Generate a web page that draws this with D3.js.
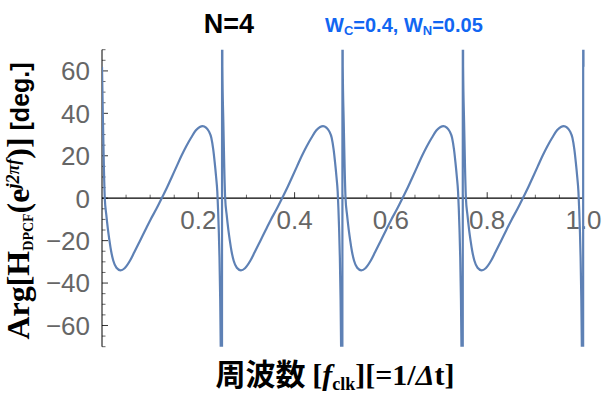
<!DOCTYPE html>
<html><head><meta charset="utf-8">
<script src="https://cdn.jsdelivr.net/npm/d3@7"></script>
<style>body{margin:0;background:#fff}svg{display:block}</style>
</head><body>
<svg id="c" width="603" height="396"></svg>
<script>
// frequency (f / f_clk) and phase (deg)
const freq = [
 0, 0.002, 0.004, 0.0058, 0.009, 0.0125, 0.0155, 0.019, 0.0235, 0.030, 0.0385, 0.047, 0.058, 0.067, 0.078, 0.090, 0.101, 0.113, 0.124, 0.135, 0.145, 0.155, 0.165, 0.175, 0.185, 0.195, 0.203, 0.209, 0.216, 0.222, 0.227, 0.231, 0.234, 0.237, 0.2395, 0.241, 0.2425, 0.244, 0.2455, 0.247, 0.2492, 0.2494,
 0.25, 0.252, 0.254, 0.2558, 0.259, 0.2625, 0.2655, 0.269, 0.2735, 0.280, 0.2885, 0.297, 0.308, 0.317, 0.328, 0.340, 0.351, 0.363, 0.374, 0.385, 0.395, 0.405, 0.415, 0.425, 0.435, 0.445, 0.453, 0.459, 0.466, 0.472, 0.477, 0.481, 0.484, 0.487, 0.4895, 0.491, 0.4925, 0.494, 0.4955, 0.497, 0.4992, 0.4994,
 0.5, 0.502, 0.504, 0.5058, 0.509, 0.5125, 0.5155, 0.519, 0.5235, 0.530, 0.5385, 0.547, 0.558, 0.567, 0.578, 0.590, 0.601, 0.613, 0.624, 0.635, 0.645, 0.655, 0.665, 0.675, 0.685, 0.695, 0.703, 0.709, 0.716, 0.722, 0.727, 0.731, 0.734, 0.737, 0.7395, 0.741, 0.7425, 0.744, 0.7455, 0.747, 0.7492, 0.7494,
 0.75, 0.752, 0.754, 0.7558, 0.759, 0.7625, 0.7655, 0.769, 0.7735, 0.780, 0.7885, 0.797, 0.808, 0.817, 0.828, 0.840, 0.851, 0.863, 0.874, 0.885, 0.895, 0.905, 0.915, 0.925, 0.935, 0.945, 0.953, 0.959, 0.966, 0.972, 0.977, 0.981, 0.984, 0.987, 0.9895, 0.991, 0.9925, 0.994, 0.9955, 0.997, 0.9992, 0.9994, 1.0
];
const phase = [
 62, 36, 14, 0, -8, -15, -20, -25, -29.5, -32.8, -34, -33, -29.5, -25.5, -20.5, -15, -10, -5, 0, 5, 10, 15, 20, 24.5, 28.5, 32, 33.6, 34, 33.3, 31.5, 28.5, 23, 17, 10, 3, -5, -15, -28, -48, -80, -150, 150,
 62, 36, 14, 0, -8, -15, -20, -25, -29.5, -32.8, -34, -33, -29.5, -25.5, -20.5, -15, -10, -5, 0, 5, 10, 15, 20, 24.5, 28.5, 32, 33.6, 34, 33.3, 31.5, 28.5, 23, 17, 10, 3, -5, -15, -28, -48, -80, -150, 150,
 62, 36, 14, 0, -8, -15, -20, -25, -29.5, -32.8, -34, -33, -29.5, -25.5, -20.5, -15, -10, -5, 0, 5, 10, 15, 20, 24.5, 28.5, 32, 33.6, 34, 33.3, 31.5, 28.5, 23, 17, 10, 3, -5, -15, -28, -48, -80, -150, 150,
 62, 36, 14, 0, -8, -15, -20, -25, -29.5, -32.8, -34, -33, -29.5, -25.5, -20.5, -15, -10, -5, 0, 5, 10, 15, 20, 24.5, 28.5, 32, 33.6, 34, 33.3, 31.5, 28.5, 23, 17, 10, 3, -5, -15, -28, -48, -80, -150, 150, 62
];
const xMajor = [0.2, 0.4, 0.6, 0.8, 1.0];
const xMinor = [0.05, 0.1, 0.15, 0.25, 0.3, 0.35, 0.45, 0.5, 0.55, 0.65, 0.7, 0.75, 0.85, 0.9, 0.95];
const yMajor = [-60, -40, -20, 0, 20, 40, 60];
const yMinor = [-70, -65, -55, -50, -45, -35, -30, -25, -15, -10, -5, 5, 10, 15, 25, 30, 35, 45, 50, 55, 65, 70];

const svg = d3.select("#c");
const x = d3.scaleLinear().domain([0, 1]).range([102, 583.5]);
const y = d3.scaleLinear().domain([-70, 70]).range([346.7, 49.7]);
const y0 = y(0);

svg.append("defs").append("clipPath").attr("id", "clip")
  .append("rect").attr("x", x(0)).attr("y", y(70)).attr("width", x(1) - x(0) + 2).attr("height", y(-70) - y(70));

// y axis ticks
const gy = svg.append("g");
gy.append("line").attr("x1", x(0)).attr("x2", x(0)).attr("y1", y(70)).attr("y2", y(-70)).attr("stroke", "#000").attr("stroke-width", 1);
gy.selectAll(".ymaj").data(yMajor).join("line")
  .attr("x1", x(0)).attr("x2", x(0) + 6).attr("y1", d => y(d)).attr("y2", d => y(d))
  .attr("stroke", "#000").attr("stroke-width", 0.8);
gy.selectAll(".ymin").data(yMinor).join("line")
  .attr("x1", x(0)).attr("x2", x(0) + 3.5).attr("y1", d => y(d)).attr("y2", d => y(d))
  .attr("stroke", "#000").attr("stroke-width", 0.6);
gy.selectAll("text").data(yMajor).join("text")
  .attr("x", x(0) - 12).attr("y", d => y(d)).attr("dy", "0.36em")
  .attr("text-anchor", "end").attr("font-family", "Liberation Sans, Arial, sans-serif")
  .attr("font-size", 26).attr("fill", "#666")
  .text(d => d < 0 ? "\u2212" + Math.abs(d) : String(d));

// x axis
const gx = svg.append("g");
gx.append("line").attr("x1", x(0)).attr("x2", x(1)).attr("y1", y0).attr("y2", y0).attr("stroke", "#000").attr("stroke-width", 1.2);
gx.selectAll(".xmaj").data(xMajor).join("line")
  .attr("x1", d => x(d)).attr("x2", d => x(d)).attr("y1", y0).attr("y2", y0 - 6)
  .attr("stroke", "#000").attr("stroke-width", 0.8);
gx.selectAll(".xmin").data(xMinor).join("line")
  .attr("x1", d => x(d)).attr("x2", d => x(d)).attr("y1", y0).attr("y2", y0 - 3.5)
  .attr("stroke", "#000").attr("stroke-width", 0.6);
gx.selectAll("text").data(xMajor).join("text")
  .attr("x", d => x(d)).attr("y", y0 + 31)
  .attr("text-anchor", "middle").attr("font-family", "Liberation Sans, Arial, sans-serif")
  .attr("font-size", 26).attr("fill", "#666")
  .text(d => d.toFixed(1));

// curve
const pts = freq.map((f, i) => ({f, p: phase[i]}));
const line = d3.line().x(d => x(d.f)).y(d => y(d.p)).curve(d3.curveMonotoneX);
svg.append("path").datum(pts).attr("clip-path", "url(#clip)")
  .attr("d", line).attr("fill", "none").attr("stroke", "#5E81B5").attr("stroke-width", 2.2)
  .attr("stroke-linejoin", "round");

// title
svg.append("text").attr("x", 229).attr("y", 33).attr("text-anchor", "middle")
  .attr("font-family", "Liberation Sans, Arial, sans-serif").attr("font-weight", "bold")
  .attr("font-size", 27).attr("fill", "#000").text("N=4");

const bt = svg.append("text").attr("x", 325).attr("y", 32)
  .attr("font-family", "Liberation Sans, Arial, sans-serif").attr("font-weight", "bold")
  .attr("font-size", 20).attr("fill", "#1166F2");
bt.append("tspan").text("W");
bt.append("tspan").attr("font-size", 13).attr("dy", 3).text("C");
bt.append("tspan").attr("dy", -3).text("=0.4, W");
bt.append("tspan").attr("font-size", 13).attr("dy", 3).text("N");
bt.append("tspan").attr("dy", -3).text("=0.05");

// y axis title
const yt = svg.append("text").attr("transform", "translate(29,201) rotate(-90)")
  .attr("text-anchor", "middle").attr("font-weight", "bold").attr("fill", "#000")
  .attr("font-family", "Liberation Serif, Times New Roman, serif").attr("font-size", 32);
yt.append("tspan").text("Arg[H");
yt.append("tspan").attr("font-size", 14).attr("dy", 4).text("DPCF");
yt.append("tspan").attr("dy", -4).text("(e");
yt.append("tspan").attr("font-size", 18).attr("font-style", "italic").attr("dy", -10).text("j2\u03C0f");
yt.append("tspan").attr("dy", 10).text(")]");
yt.append("tspan").attr("font-family", "Liberation Sans, Arial, sans-serif").attr("font-size", 25).text(" [deg.]");

// x axis title
const xt = svg.append("text").attr("x", 335).attr("y", 385).attr("text-anchor", "middle")
  .attr("font-weight", "bold").attr("fill", "#000")
  .attr("font-family", "Liberation Serif, Times New Roman, serif").attr("font-size", 30);
xt.append("tspan").attr("font-family", "Noto Sans CJK JP, sans-serif").text("周波数 ");
xt.append("tspan").text("[");
xt.append("tspan").attr("font-style", "italic").text("f");
xt.append("tspan").attr("font-size", 18).attr("dy", 5).text("clk");
xt.append("tspan").attr("dy", -5).text("][=1/");
xt.append("tspan").attr("font-style", "italic").text("\u0394");
xt.append("tspan").text("t]");
</script>
</body></html>
